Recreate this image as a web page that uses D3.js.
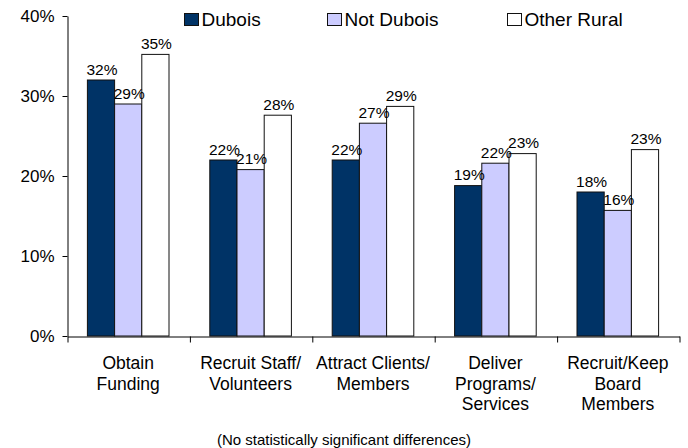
<!DOCTYPE html>
<html>
<head>
<meta charset="utf-8">
<script src="https://cdn.jsdelivr.net/npm/d3@7"></script>
<style>
  html, body { margin: 0; padding: 0; background: #fff; }
  svg { display: block; font-family: "Liberation Sans", Arial, sans-serif; }
</style>
</head>
<body>
<svg id="chart" width="688" height="448"></svg>
<script>
// Categories (each label split into its display lines)
const categories = [
  ["Obtain", "Funding"],
  ["Recruit Staff/", "Volunteers"],
  ["Attract Clients/", "Members"],
  ["Deliver", "Programs/", "Services"],
  ["Recruit/Keep", "Board", "Members"]
];
const seriesNames = ["Dubois", "Not Dubois", "Other Rural"];
// Percent of respondents, per category
const dubois     = [32.0, 22.0, 22.0, 18.8, 18.0];
const notDubois  = [29.0, 20.8, 26.6, 21.6, 15.7];
const otherRural = [35.2, 27.6, 28.7, 22.8, 23.3];
const yTicks = [0, 10, 20, 30, 40];
const footnote = "(No statistically significant differences)";

const seriesValues = [dubois, notDubois, otherRural];
const colors = d3.scaleOrdinal().domain(seriesNames).range(["#003366", "#ccccff", "#ffffff"]);

const svg = d3.select("#chart");
const plotLeft = 67, plotRight = 679, plotTop = 16, plotBottom = 336;

const y = d3.scaleLinear().domain([0, 40]).range([plotBottom, plotTop]);
const x0 = d3.scaleBand().domain(d3.range(categories.length)).range([plotLeft, plotRight]).padding(0);
const x1 = d3.scaleBand().domain(seriesNames).range([0, x0.bandwidth()])
  .paddingInner(0).paddingOuter(0.75);

// Bars
const groups = svg.append("g").selectAll("g")
  .data(categories.map((c, i) => ({ i, vals: seriesNames.map((s, k) => ({ s, v: seriesValues[k][i] })) })))
  .join("g")
  .attr("transform", d => `translate(${x0(d.i)},0)`);

groups.selectAll("rect")
  .data(d => d.vals)
  .join("rect")
  .attr("x", d => x1(d.s))
  .attr("y", d => y(d.v))
  .attr("width", x1.bandwidth())
  .attr("height", d => y(0) - y(d.v))
  .attr("fill", d => colors(d.s))
  .attr("stroke", "#111")
  .attr("stroke-width", 1);

// Value labels
groups.selectAll("text")
  .data(d => d.vals)
  .join("text")
  .attr("x", d => x1(d.s) + x1.bandwidth() / 2 + 1)
  .attr("y", d => y(d.v) - 5.5)
  .attr("text-anchor", "middle")
  .attr("font-size", "15.5px")
  .attr("fill", "#000")
  .text(d => Math.round(d.v) + "%");

// Y axis
const yAxis = svg.append("g")
  .attr("transform", `translate(${plotLeft + 0.5},0)`)
  .call(d3.axisLeft(y).tickValues(yTicks).tickSize(5).tickSizeOuter(0).tickPadding(8)
    .tickFormat(d => d + "%"));
yAxis.selectAll("text").attr("font-size", "17px").attr("fill", "#000")
  .attr("font-family", "'Liberation Sans', Arial, sans-serif");
yAxis.selectAll("line, path").attr("stroke", "#000");

// X axis with ticks on category boundaries
const xb = d3.scaleLinear().domain([0, categories.length]).range([plotLeft, plotRight]);
const xAxis = svg.append("g")
  .attr("transform", `translate(0.5,${plotBottom + 0.5})`)
  .call(d3.axisBottom(xb).ticks(categories.length).tickSize(6).tickSizeOuter(0).tickFormat(""));
xAxis.selectAll("line, path").attr("stroke", "#000");

// Category labels
svg.append("g").selectAll("text")
  .data(categories.map((lines, i) => ({ lines, i })))
  .join("text")
  .attr("text-anchor", "middle")
  .attr("font-size", "17.5px")
  .attr("fill", "#000")
  .each(function (d) {
    d3.select(this).selectAll("tspan")
      .data(d.lines)
      .join("tspan")
      .attr("x", x0(d.i) + x0.bandwidth() / 2)
      .attr("y", (l, j) => 369 + j * 20.5)
      .text(l => l);
  });

// Legend
const legendX = [184, 327, 507];
const legend = svg.append("g").selectAll("g")
  .data(seriesNames)
  .join("g")
  .attr("transform", (d, i) => `translate(${legendX[i]},13)`);
legend.append("rect")
  .attr("x", 0.5).attr("y", 0.5)
  .attr("width", 14).attr("height", 12)
  .attr("fill", d => colors(d))
  .attr("stroke", "#111");
legend.append("text")
  .attr("x", 17.5).attr("y", 13)
  .attr("font-size", "19px")
  .attr("fill", "#000")
  .text(d => d);

// Footnote
svg.append("text")
  .attr("x", 344).attr("y", 445)
  .attr("text-anchor", "middle")
  .attr("font-size", "15px")
  .attr("fill", "#000")
  .text(footnote);
</script>
</body>
</html>
